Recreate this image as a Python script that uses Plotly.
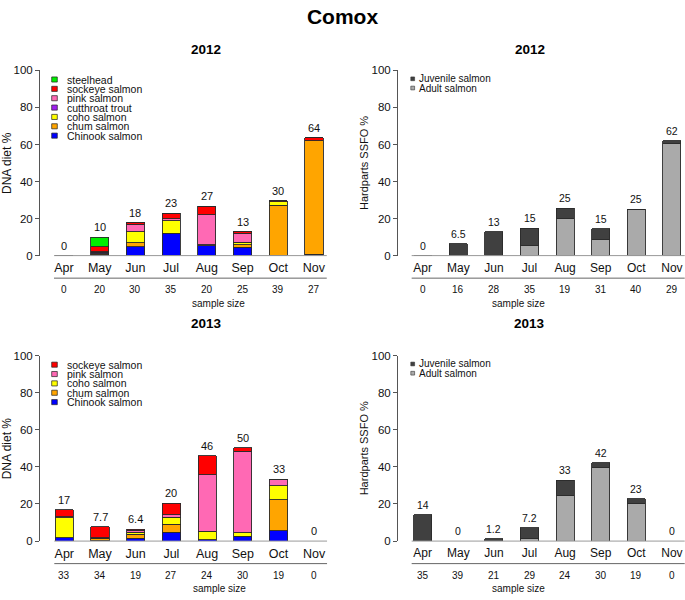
import plotly.graph_objects as go

months = ["Apr", "May", "Jun", "Jul", "Aug", "Sep", "Oct", "Nov"]

# ---- DNA diet %, 2012 (stack order bottom -> top)
dna12_chinook = [0, 0.4, 4.8, 12.2, 5.4, 4.6, 0.3, 0.8]
dna12_chum = [0, 0.6, 2.2, 0, 0.4, 1.2, 27.0, 61.2]
dna12_coho = [0, 0, 6.0, 6.5, 0, 1.4, 1.8, 0]
dna12_cutthroat = [0, 0.8, 0, 0, 0, 0, 0, 0]
dna12_pink = [0, 0.3, 4.0, 1.2, 16.2, 5.0, 0, 0]
dna12_sockeye = [0, 2.6, 0.8, 3.0, 4.7, 0.8, 0.4, 1.5]
dna12_steelhead = [0, 5.2, 0, 0, 0, 0, 0, 0]
dna12_labels = ["0", "10", "18", "23", "27", "13", "30", "64"]
dna12_n = [0, 20, 30, 35, 20, 25, 39, 27]

# ---- DNA diet %, 2013
dna13_chinook = [1.8, 0.3, 1.4, 4.8, 0.7, 2.6, 5.5, 0]
dna13_chum = [0, 1.1, 2.3, 4.2, 0, 0, 16.7, 0]
dna13_coho = [10.7, 0.5, 1.1, 3.9, 4.6, 1.9, 7.7, 0]
dna13_pink = [0.5, 0, 1.0, 1.2, 30.4, 43.8, 3.3, 0]
dna13_sockeye = [4.0, 5.8, 0.6, 6.3, 10.3, 1.9, 0, 0]
dna13_labels = ["17", "7.7", "6.4", "20", "46", "50", "33", "0"]
dna13_n = [33, 34, 19, 27, 24, 30, 19, 0]

# ---- Hardparts SSFO %, 2012
hp12_adult = [0, 0, 0, 5.3, 20.1, 8.6, 25.0, 60.3]
hp12_juvenile = [0, 6.5, 13.0, 9.5, 5.5, 6.0, 0, 1.8]
hp12_labels = ["0", "6.5", "13", "15", "25", "15", "25", "62"]
hp12_n = [0, 16, 28, 35, 19, 31, 40, 29]

# ---- Hardparts SSFO %, 2013
hp13_adult = [0, 0, 0, 1.3, 24.8, 39.4, 20.4, 0]
hp13_juvenile = [14.1, 0, 1.2, 5.9, 8.0, 2.8, 2.5, 0]
hp13_labels = ["14", "0", "1.2", "7.2", "33", "42", "23", "0"]
hp13_n = [35, 39, 21, 29, 24, 30, 19, 0]

COL = {
    "steelhead": "#00EE00",
    "sockeye salmon": "#FF0000",
    "pink salmon": "#FF69B4",
    "cutthroat trout": "#A020F0",
    "coho salmon": "#FFFF00",
    "chum salmon": "#FFA500",
    "Chinook salmon": "#0000FF",
    "Juvenile salmon": "#404040",
    "Adult salmon": "#AAAAAA",
}

W, H = 685, 600
FONT = "Liberation Sans, Arial, sans-serif"
NARROW = "Liberation Sans Narrow, Arial Narrow, Liberation Sans, Arial, sans-serif"


def fx(p):
    return p / W


def fy(p):
    return 1 - p / H


panels = [
    dict(k="", axis=40, right=333, start=64.0, sp=35.7, y0=254.7, y100=65.7, ty=44, kind="dna",
         series=[("Chinook salmon", dna12_chinook), ("chum salmon", dna12_chum),
                 ("coho salmon", dna12_coho), ("cutthroat trout", dna12_cutthroat),
                 ("pink salmon", dna12_pink), ("sockeye salmon", dna12_sockeye),
                 ("steelhead", dna12_steelhead)],
         labels=dna12_labels, n=dna12_n, title="2012", ytitle="DNA diet %"),
    dict(k="2", axis=398, right=685, start=422.7, sp=35.6, y0=254.7, y100=65.7, ty=44, kind="hp",
         series=[("Adult salmon", hp12_adult), ("Juvenile salmon", hp12_juvenile)],
         labels=hp12_labels, n=hp12_n, title="2012", ytitle="Hardparts SSFO %"),
    dict(k="3", axis=40, right=333, start=64.3, sp=35.7, y0=546.0, y100=356.7, ty=324, kind="dna",
         series=[("Chinook salmon", dna13_chinook), ("chum salmon", dna13_chum),
                 ("coho salmon", dna13_coho), ("pink salmon", dna13_pink),
                 ("sockeye salmon", dna13_sockeye)],
         labels=dna13_labels, n=dna13_n, title="2013", ytitle="DNA diet %"),
    dict(k="4", axis=398, right=685, start=422.7, sp=35.6, y0=546.0, y100=356.7, ty=324, kind="hp",
         series=[("Adult salmon", hp13_adult), ("Juvenile salmon", hp13_juvenile)],
         labels=hp13_labels, n=hp13_n, title="2013", ytitle="Hardparts SSFO %"),
]

fig = go.Figure()
layout = dict(
    width=W, height=H, margin=dict(l=0, r=0, t=0, b=0),
    paper_bgcolor="white", plot_bgcolor="white", barmode="stack",
    showlegend=False, font=dict(family=FONT, color="#111"),
)
annotations = []
shapes = []

layout["title"] = dict(text="<b>Comox</b>", x=0.5, xanchor="center", y=fy(17), yanchor="middle",
                       font=dict(family=NARROW, size=21, color="#000"))

x_idx = list(range(len(months)))

for p in panels:
    k = p["k"]
    xa, ya = "x" + k, "y" + k
    rng = [(p["axis"] - p["start"]) / p["sp"], (p["right"] - p["start"]) / p["sp"]]
    small = p["kind"] == "hp"
    for name, vals in p["series"]:
        fig.add_trace(go.Bar(
            x=x_idx, y=vals, name=name, xaxis=xa, yaxis=ya, width=0.51,
            marker=dict(color=COL[name], line=dict(color="#2a2a2a", width=0.9)),
            showlegend=False, hoverinfo="skip",
        ))
    totals = [sum(s[1][i] for s in p["series"]) for i in x_idx]
    layout["xaxis" + k] = dict(
        domain=[fx(p["axis"]), fx(p["right"])], range=rng, anchor=ya,
        tickvals=x_idx, ticktext=months, ticks="", showline=False, showgrid=False,
        zeroline=False, tickfont=dict(size=12 if small else 12.5, color="#111"),
        ticklabelstandoff=3, fixedrange=True,
    )
    layout["yaxis" + k] = dict(
        domain=[fy(p["y0"]), fy(p["y100"])], range=[0, 100], anchor=xa,
        tickvals=[0, 20, 40, 60, 80, 100], ticks="outside", ticklen=4,
        tickcolor="#555", showline=True, linecolor="#555", linewidth=1,
        showgrid=False, zeroline=False, tickfont=dict(size=11.5, color="#111"),
        fixedrange=True,
    )
    # value labels above bars
    for i, t in enumerate(totals):
        annotations.append(dict(
            x=i, y=t, xref=xa, yref=ya, text=p["labels"][i], showarrow=False,
            yanchor="bottom", yshift=2, font=dict(size=10.5 if small else 11, color="#111"),
        ))
    # baseline and separator
    left_line = p["start"] - 0.28 * p["sp"] if not small else p["start"] - 0.31 * p["sp"]
    right_line = min(p["start"] + 7.36 * p["sp"], W)
    shapes.append(dict(type="line", xref="paper", yref="paper",
                       x0=fx(left_line), x1=fx(right_line), y0=fy(p["y0"]), y1=fy(p["y0"]),
                       line=dict(color="#999", width=1)))
    sep_y = p["y0"] + 23
    shapes.append(dict(type="line", xref="paper", yref="paper",
                       x0=fx(left_line), x1=fx(right_line), y0=fy(sep_y), y1=fy(sep_y),
                       line=dict(color="#666", width=1)))
    # sample sizes
    for i, nv in enumerate(p["n"]):
        annotations.append(dict(
            x=i, y=fy(p["y0"] + 35), xref=xa, yref="paper", text=str(nv), showarrow=False,
            yanchor="middle", font=dict(size=10, color="#111"),
        ))
    annotations.append(dict(
        x=fx((left_line + right_line) / 2 if not small else (p["start"] + 3.5 * p["sp"])),
        y=fy(p["y0"] + 48.5), xref="paper", yref="paper", text="sample size",
        showarrow=False, yanchor="middle", font=dict(size=10, color="#111"),
    ))
    # panel title
    annotations.append(dict(
        x=fx(p["start"] + 3.5 * p["sp"]), y=fy(p["ty"]), xref="paper", yref="paper",
        text="<b>" + p["title"] + "</b>", showarrow=False, yanchor="middle",
        font=dict(family=NARROW, size=13.5, color="#000"),
    ))
    # y-axis title
    annotations.append(dict(
        x=fx(7 if not small else 364), y=fy((p["y0"] + p["y100"]) / 2), xref="paper",
        yref="paper", text=p["ytitle"], showarrow=False, textangle=-90,
        xanchor="center", yanchor="middle", font=dict(size=12 if not small else 11, color="#111"),
    ))
    # legend (drawn manually, R-style compact)
    names = [s[0] for s in p["series"]][::-1]
    if not small:
        row0 = p["y100"] + 9.3
        step = 9.55
        for j, nm in enumerate(names):
            ry = row0 + j * step
            shapes.append(dict(type="rect", xref="paper", yref="paper",
                               x0=fx(51.7), x1=fx(57.3), y0=fy(ry + 2.6), y1=fy(ry - 2.6),
                               fillcolor=COL[nm], line=dict(color="#222", width=0.7)))
            annotations.append(dict(
                x=fx(64.5), y=fy(ry), xref="paper", yref="paper", text=nm,
                showarrow=False, xanchor="left", yanchor="middle",
                font=dict(size=10.5, color="#111"),
            ))
    else:
        row0 = p["y100"] + 8.6
        step = 9.4
        for j, nm in enumerate(names):
            ry = row0 + j * step
            shapes.append(dict(type="rect", xref="paper", yref="paper",
                               x0=fx(410.8), x1=fx(414.6), y0=fy(ry + 1.9), y1=fy(ry - 1.9),
                               fillcolor=COL[nm], line=dict(color="#333", width=0.6)))
            annotations.append(dict(
                x=fx(417), y=fy(ry), xref="paper", yref="paper", text=nm,
                showarrow=False, xanchor="left", yanchor="middle",
                font=dict(size=10, color="#111"),
            ))

layout["annotations"] = annotations
layout["shapes"] = shapes
fig.update_layout(**layout)
fig.write_html(
    "out.html",
    config={"displayModeBar": False},
    post_script="document.body.style.margin='0';document.body.style.overflow='hidden';",
)
